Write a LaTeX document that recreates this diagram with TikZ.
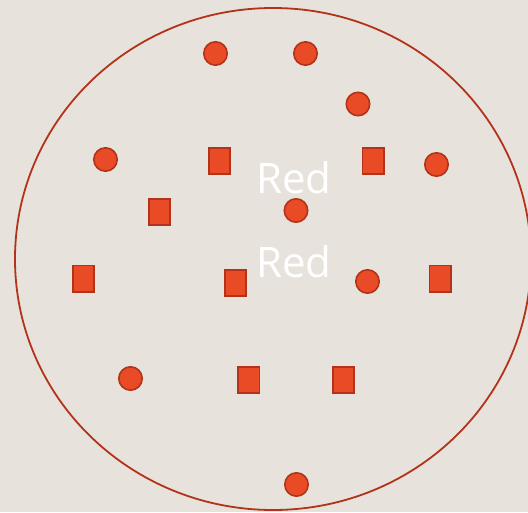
\documentclass[tikz,border=0pt]{standalone}
\usepackage{fontspec}
\setmainfont{Open Sans}
\usepackage{xcolor}
\usepackage{tikz}
\definecolor{paper}{HTML}{E7E3DC}
\definecolor{redfill}{HTML}{E84B25}
\definecolor{redline}{HTML}{B3331A}
\tikzset{
  dot/.style={circle, fill=redfill, draw=redline, line width=1.6pt, minimum size=23.4pt, inner sep=0pt},
  box/.style={rectangle, fill=redfill, draw=redline, line width=1.6pt, minimum width=21.4pt, minimum height=26.4pt, inner sep=0pt},
  word/.style={text=white, font=\fontsize{42}{42}\selectfont, anchor=base}
}

\begin{document}
\begin{tikzpicture}[x=1pt, y=-1pt]
\fill[paper] (0,0) rectangle (528,512);
\useasboundingbox (0,0) rectangle (528,512);
\draw[redline, line width=1.8pt] (273,259) ellipse [x radius=258, y radius=251];
% circles
\node[dot] (c1) at (215.5,53.5) {};
\node[dot] (c2) at (305.5,53.5) {};
\node[dot] (c3) at (358,104) {};
\node[dot] (c4) at (105.5,159.5) {};
\node[dot] (c5) at (436.5,164.5) {};
\node[dot] (c6) at (296,210.5) {};
\node[dot] (c7) at (367.5,281.5) {};
\node[dot] (c8) at (130.5,378.5) {};
\node[dot] (c9) at (296.5,484.5) {};
% squares
\node[box] (s1) at (219.5,161) {};
\node[box] (s2) at (373,161) {};
\node[box] (s3) at (159.5,212) {};
\node[box] (s4) at (83.5,278.5) {};
\node[box] (s5) at (235.5,283) {};
\node[box] (s6) at (440,278.5) {};
\node[box] (s7) at (248.7,380) {};
\node[box] (s8) at (343.5,380) {};
% labels
\node[word] (red1) at (294,193) {Red};
\node[word] (red2) at (294,277) {Red};
\end{tikzpicture}
\end{document}
